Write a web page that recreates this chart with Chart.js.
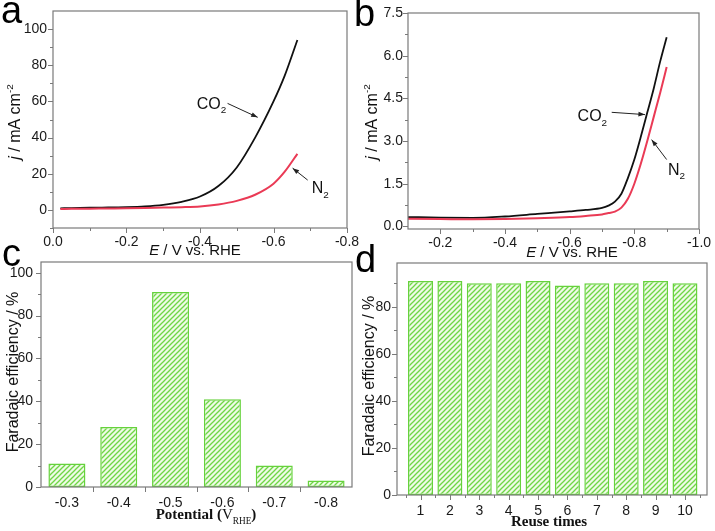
<!DOCTYPE html>
<html><head><meta charset="utf-8">
<script src="https://cdn.jsdelivr.net/npm/chart.js@4.4.1/dist/chart.umd.min.js"></script>
<style>
html,body{margin:0;padding:0;background:#fff;}
#wrap{position:relative;width:715px;height:531px;overflow:hidden;background:#fff;}
canvas{position:absolute;}
</style></head><body>
<div id="wrap">
<canvas id="ca" width="365" height="258" style="left:0;top:0"></canvas>
<canvas id="cb" width="365" height="258" style="left:350px;top:0"></canvas>
<canvas id="cc" width="357" height="291" style="left:0;top:240px"></canvas>
<canvas id="cd" width="365" height="291" style="left:350px;top:240px"></canvas>
</div>
<script>
// ---------- Panel a : LSV (E / V vs. RHE vs j / mA cm-2) ----------
const aPotential = [-0.02,-0.05,-0.1,-0.15,-0.2,-0.25,-0.3,-0.35,-0.4,-0.45,-0.5,-0.55,-0.6,-0.63,-0.665];
const aCO2 = [0.9,1.0,1.2,1.35,1.5,1.9,2.8,4.5,7.4,13.2,23.5,40,60,74,94];
const aN2  = [0.5,0.6,0.7,0.8,0.9,1.05,1.3,1.5,1.9,3.0,5.0,8.4,14.5,21,31];
const aXTicks = [0,-0.2,-0.4,-0.6,-0.8];
const aXMinor = [-0.1,-0.3,-0.5,-0.7];
const aYTicks = [0,20,40,60,80,100];
const aYMinor = [-10,10,30,50,70,90];

// ---------- Panel b ----------
const bPotential = [-0.1,-0.2,-0.3,-0.4,-0.5,-0.6,-0.65,-0.7,-0.72,-0.74,-0.76,-0.78,-0.8,-0.82,-0.84,-0.86,-0.88,-0.9];
const bCO2 = [0.33,0.31,0.30,0.35,0.44,0.53,0.58,0.65,0.73,0.87,1.15,1.7,2.35,3.15,4.0,4.85,5.8,6.65];
const bN2  = [0.27,0.26,0.25,0.26,0.29,0.33,0.37,0.42,0.47,0.52,0.66,0.97,1.5,2.2,3.0,3.85,4.7,5.6];
const bXTicks = [-0.2,-0.4,-0.6,-0.8,-1.0];
const bXMinor = [-0.3,-0.5,-0.7,-0.9];
const bYTicks = [0,1.5,3.0,4.5,6.0,7.5];
const bYMinor = [0.75,2.25,3.75,5.25,6.75];

// ---------- Panel c ----------
const cPotentials = ['-0.3','-0.4','-0.5','-0.6','-0.7','-0.8'];
const cEfficiency = [11,28,91,41,10,3];
const cYTicks = [0,20,40,60,80,100];
const cYMinor = [10,30,50,70,90];

// ---------- Panel d ----------
const dReuse = [1,2,3,4,5,6,7,8,9,10];
const dEfficiency = [91,91,90,90,91,89,90,90,91,90];
const dYTicks = [0,20,40,60,80];
const dYMinor = [10,30,50,70,90];
const dXMinor = [0.5,1.5,2.5,3.5,4.5,5.5,6.5,7.5,8.5,9.5,10.5];

const SANS = '"Liberation Sans", Arial, Helvetica, sans-serif';
const SERIF = '"Liberation Serif", "Times New Roman", serif';
const FRAME = '#7a7a7a';
const TICKFONT = {family: SANS, size: 14};
const TICKCOLOR = '#1a1a1a';

function fontStr(size, o) {
  return (o.italic ? 'italic ' : '') + (o.bold ? 'bold ' : '') + size + 'px ' + (o.family || SANS);
}
function drawRich(ctx, parts, x, y, o) {
  const size = o.size || 14;
  ctx.save();
  ctx.translate(x, y);
  if (o.rotate) ctx.rotate(o.rotate);
  ctx.textBaseline = 'alphabetic';
  ctx.textAlign = 'left';
  ctx.fillStyle = o.color || '#111';
  const items = parts.map(p => {
    const s = (p.sup || p.sub) ? size * 0.62 : size;
    const f = fontStr(s, {italic: p.i, bold: p.b !== undefined ? p.b : o.bold, family: o.family});
    ctx.font = f;
    return {p, f, w: ctx.measureText(p.t).width, dy: p.sup ? -size * 0.45 : (p.sub ? size * 0.3 : 0)};
  });
  const total = items.reduce((a, b) => a + b.w, 0);
  let cx = o.align === 'left' ? 0 : (o.align === 'right' ? -total : -total / 2);
  for (const it of items) { ctx.font = it.f; ctx.fillText(it.p.t, cx, it.dy); cx += it.w; }
  ctx.restore();
}

function makeDecor(cfg) {
  return {
    id: 'decor',
    afterDraw(chart) {
      const ctx = chart.ctx, a = chart.chartArea, xs = chart.scales.x, ys = chart.scales.y;
      ctx.save();
      ctx.strokeStyle = FRAME; ctx.lineWidth = 1.2;
      ctx.strokeRect(a.left, a.top, a.right - a.left, a.bottom - a.top);
      ctx.lineWidth = 1;
      const tx = (vals, len) => vals.forEach(v => {
        const p = Math.round(xs.getPixelForValue(v)) + 0.5;
        ctx.beginPath(); ctx.moveTo(p, a.bottom); ctx.lineTo(p, a.bottom + len); ctx.stroke();
      });
      const ty = (vals, len) => vals.forEach(v => {
        const p = Math.round(ys.getPixelForValue(v)) + 0.5;
        ctx.beginPath(); ctx.moveTo(a.left, p); ctx.lineTo(a.left - len, p); ctx.stroke();
      });
      tx(cfg.xMajor || [], 5); tx(cfg.xMinor || [], 3);
      ty(cfg.yMajor || [], 5); ty(cfg.yMinor || [], 3);
      ctx.restore();
      if (cfg.xTitle) drawRich(ctx, cfg.xTitle.parts, cfg.xTitle.x, cfg.xTitle.y, cfg.xTitle);
      if (cfg.yTitle) drawRich(ctx, cfg.yTitle.parts, cfg.yTitle.x, cfg.yTitle.y, Object.assign({rotate: -Math.PI / 2}, cfg.yTitle));
      drawRich(ctx, [{t: cfg.letter.t}], cfg.letter.x, cfg.letter.y, {size: 38, align: 'left', color: '#000'});
      (cfg.notes || []).forEach(n => {
        drawRich(ctx, n.parts, xs.getPixelForValue(n.x), ys.getPixelForValue(n.y), {size: 16, align: 'left', color: '#111'});
      });
      (cfg.arrows || []).forEach(r => {
        const x1 = xs.getPixelForValue(r.x1), y1 = ys.getPixelForValue(r.y1);
        const x2 = xs.getPixelForValue(r.x2), y2 = ys.getPixelForValue(r.y2);
        const ang = Math.atan2(y2 - y1, x2 - x1);
        ctx.save();
        ctx.strokeStyle = '#222'; ctx.fillStyle = '#222'; ctx.lineWidth = 1;
        ctx.beginPath(); ctx.moveTo(x1, y1); ctx.lineTo(x2, y2); ctx.stroke();
        ctx.beginPath();
        ctx.moveTo(x2, y2);
        ctx.lineTo(x2 - 7 * Math.cos(ang - 0.35), y2 - 7 * Math.sin(ang - 0.35));
        ctx.lineTo(x2 - 7 * Math.cos(ang + 0.35), y2 - 7 * Math.sin(ang + 0.35));
        ctx.closePath(); ctx.fill();
        ctx.restore();
      });
    }
  };
}

function hatch() {
  const c = document.createElement('canvas'); c.width = 5; c.height = 5;
  const g = c.getContext('2d');
  g.fillStyle = '#eefbe6'; g.fillRect(0, 0, 5, 5);
  g.strokeStyle = '#6fd646'; g.lineWidth = 1.3;
  g.beginPath(); g.moveTo(-1, 6); g.lineTo(6, -1); g.stroke();
  g.beginPath(); g.moveTo(-1, 1); g.lineTo(1, -1); g.stroke();
  g.beginPath(); g.moveTo(4, 6); g.lineTo(6, 4); g.stroke();
  return g.createPattern(c, 'repeat');
}

const common = {
  responsive: false, animation: false, events: [],
  plugins: {legend: {display: false}, tooltip: {enabled: false}}
};
const fixTicks = arr => s => { s.ticks = arr.map(v => ({value: v})); };
const xFit = h => s => { s.height = h; s.paddingLeft = 0; s.paddingRight = 0; };
const yFit = w => s => { s.width = w; s.paddingTop = 0; s.paddingBottom = 0; };
const pts = (xs, ys) => xs.map((x, i) => ({x, y: ys[i]}));

// ---- a ----
new Chart(document.getElementById('ca'), {
  type: 'line',
  data: {datasets: [
    {data: pts(aPotential, aN2), borderColor: '#ea3a55', borderWidth: 2, pointRadius: 0, cubicInterpolationMode: 'monotone'},
    {data: pts(aPotential, aCO2), borderColor: '#111', borderWidth: 1.8, pointRadius: 0, cubicInterpolationMode: 'monotone'}
  ]},
  options: Object.assign({}, common, {
    layout: {padding: {left: 0, top: 11, right: 18, bottom: 0}},
    scales: {
      x: {type: 'linear', min: -0.8, max: 0, reverse: true, afterBuildTicks: fixTicks(aXTicks), afterFit: xFit(30),
          grid: {display: false, drawTicks: false}, border: {display: false},
          ticks: {font: TICKFONT, color: TICKCOLOR, padding: 6, autoSkip: false, maxRotation: 0, callback: v => v.toFixed(1)}},
      y: {min: -10, max: 110, afterBuildTicks: fixTicks(aYTicks), afterFit: yFit(53),
          grid: {display: false, drawTicks: false}, border: {display: false},
          ticks: {font: TICKFONT, color: TICKCOLOR, padding: 6}}
    }
  }),
  plugins: [makeDecor({
    letter: {t: 'a', x: 1, y: 23},
    xMajor: aXTicks, xMinor: aXMinor, yMajor: aYTicks, yMinor: aYMinor,
    xTitle: {parts: [{t: 'E', i: true}, {t: ' / V vs. RHE'}], x: 195, y: 255, size: 15},
    yTitle: {parts: [{t: 'j', i: true}, {t: ' / mA cm'}, {t: '-2', sup: true}], x: 20, y: 122, size: 16},
    notes: [{parts: [{t: 'CO'}, {t: '2', sub: true}], x: -0.391, y: 56},
            {parts: [{t: 'N'}, {t: '2', sub: true}], x: -0.704, y: 9.4}],
    arrows: [{x1: -0.475, y1: 58.9, x2: -0.557, y2: 51.2},
             {x1: -0.693, y1: 16.5, x2: -0.652, y2: 23.1}]
  })]
});

// ---- b ----
new Chart(document.getElementById('cb'), {
  type: 'line',
  data: {datasets: [
    {data: pts(bPotential, bN2), borderColor: '#ea3a55', borderWidth: 2, pointRadius: 0, cubicInterpolationMode: 'monotone'},
    {data: pts(bPotential, bCO2), borderColor: '#111', borderWidth: 1.8, pointRadius: 0, cubicInterpolationMode: 'monotone'}
  ]},
  options: Object.assign({}, common, {
    layout: {padding: {left: 0, top: 13, right: 16, bottom: 0}},
    scales: {
      x: {type: 'linear', min: -1.0, max: -0.1, reverse: true, afterBuildTicks: fixTicks(bXTicks), afterFit: xFit(29),
          grid: {display: false, drawTicks: false}, border: {display: false},
          ticks: {font: TICKFONT, color: TICKCOLOR, padding: 6, autoSkip: false, maxRotation: 0, callback: v => v.toFixed(1)}},
      y: {min: -0.09, max: 7.5, afterBuildTicks: fixTicks(bYTicks), afterFit: yFit(58),
          grid: {display: false, drawTicks: false}, border: {display: false},
          ticks: {font: TICKFONT, color: TICKCOLOR, padding: 5, callback: v => v.toFixed(1)}}
    }
  }),
  plugins: [makeDecor({
    letter: {t: 'b', x: 4, y: 26},
    xMajor: bXTicks, xMinor: bXMinor, yMajor: bYTicks, yMinor: bYMinor,
    xTitle: {parts: [{t: 'E', i: true}, {t: ' / V vs. RHE'}], x: 222, y: 257, size: 15},
    yTitle: {parts: [{t: 'j', i: true}, {t: ' / mA cm'}, {t: '-2', sup: true}], x: 27, y: 122, size: 16},
    notes: [{parts: [{t: 'CO'}, {t: '2', sub: true}], x: -0.6245, y: 3.69},
            {parts: [{t: 'N'}, {t: '2', sub: true}], x: -0.904, y: 1.82}],
    arrows: [{x1: -0.730, y1: 4.01, x2: -0.833, y2: 3.93},
             {x1: -0.9, y1: 2.35, x2: -0.8535, y2: 3.05}]
  })]
});

// ---- c ----
new Chart(document.getElementById('cc'), {
  type: 'bar',
  data: {labels: cPotentials, datasets: [
    {data: cEfficiency, backgroundColor: hatch(), borderColor: '#66d23c', borderWidth: 1.5, borderSkipped: false,
     barPercentage: 0.714, categoryPercentage: 1}
  ]},
  options: Object.assign({}, common, {
    layout: {padding: {left: 0, top: 22, right: 5, bottom: 0}},
    scales: {
      x: {type: 'category', offset: true, afterFit: xFit(44),
          grid: {display: false, drawTicks: false}, border: {display: false},
          ticks: {font: TICKFONT, color: TICKCOLOR, padding: 8, autoSkip: false, maxRotation: 0}},
      y: {min: 0, max: 105, afterBuildTicks: fixTicks(cYTicks), afterFit: yFit(41),
          grid: {display: false, drawTicks: false}, border: {display: false},
          ticks: {font: TICKFONT, color: TICKCOLOR, padding: 8}}
    }
  }),
  plugins: [makeDecor({
    letter: {t: 'c', x: 2, y: 26},
    xMajor: [0.5, 1.5, 2.5, 3.5, 4.5], yMajor: cYTicks, yMinor: cYMinor,
    xTitle: {parts: [{t: 'Potential ('}, {t: 'V', b: false}, {t: 'RHE', sub: true, b: false}, {t: ')'}], x: 206, y: 279, size: 15, family: SERIF, bold: true},
    yTitle: {parts: [{t: 'Faradaic efficiency / %'}], x: 18, y: 132, size: 16}
  })]
});

// ---- d ----
new Chart(document.getElementById('cd'), {
  type: 'bar',
  data: {datasets: [
    {data: pts(dReuse, dEfficiency), backgroundColor: hatch(), borderColor: '#66d23c', borderWidth: 1.5, borderSkipped: false,
     barPercentage: 0.85, categoryPercentage: 1}
  ]},
  options: Object.assign({}, common, {
    layout: {padding: {left: 0, top: 23, right: 8, bottom: 0}},
    scales: {
      x: {type: 'linear', offset: false, min: 0.2, max: 10.75, afterBuildTicks: fixTicks(dReuse), afterFit: xFit(36),
          grid: {display: false, drawTicks: false, offset: false}, border: {display: false},
          ticks: {font: TICKFONT, color: TICKCOLOR, padding: 8, autoSkip: false, maxRotation: 0}},
      y: {min: 0, max: 98.6, afterBuildTicks: fixTicks(dYTicks), afterFit: yFit(47),
          grid: {display: false, drawTicks: false}, border: {display: false},
          ticks: {font: TICKFONT, color: TICKCOLOR, padding: 6}}
    }
  }),
  plugins: [makeDecor({
    letter: {t: 'd', x: 5, y: 32},
    xMajor: dReuse, xMinor: dXMinor, yMajor: dYTicks, yMinor: dYMinor,
    xTitle: {parts: [{t: 'Reuse times'}], x: 199, y: 286, size: 15, family: SERIF, bold: true},
    yTitle: {parts: [{t: 'Faradaic efficiency / %'}], x: 24, y: 136, size: 16}
  })]
});
</script>
</body></html>
